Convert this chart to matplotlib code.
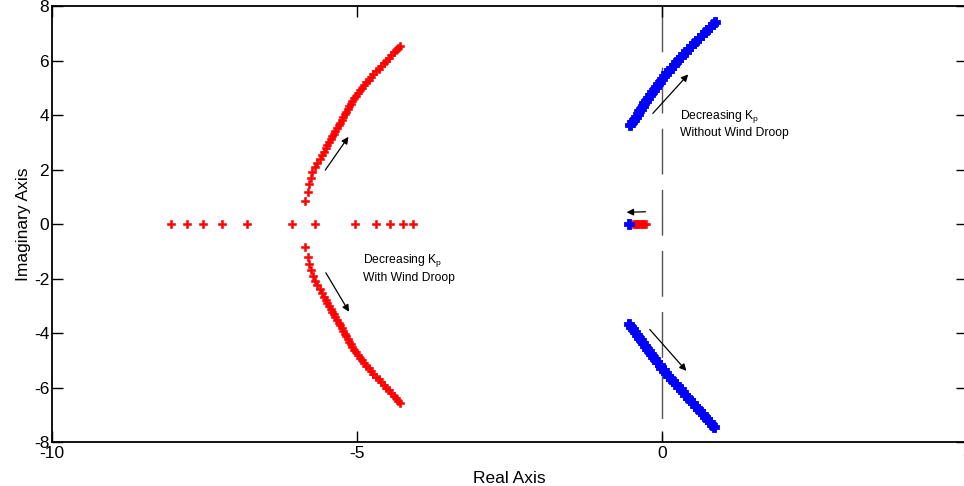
import matplotlib
matplotlib.use('Agg')
import matplotlib.pyplot as plt

plt.rcParams['font.family'] = ['Liberation Sans', 'DejaVu Sans']
plt.rcParams['mathtext.default'] = 'regular'
plt.rcParams['axes.unicode_minus'] = False

# ---- root locus, with wind droop (red) ----
red_axis_re = [-8.05, -7.79, -7.52, -7.21, -6.81, -6.07, -5.69, -5.03, -4.69, -4.46, -4.25, -4.08]
red_axis_im = [0, 0, 0, 0, 0, 0, 0, 0, 0, 0, 0, 0]

red_up_im = [0.83, 1.19, 1.46, 1.69, 1.90, 2.08, 2.24, 2.39, 2.53, 2.66, 2.78, 2.90, 3.01, 3.12,
             3.22, 3.32, 3.42, 3.52, 3.62, 3.72, 3.82, 3.92, 4.02, 4.12, 4.22, 4.32, 4.42, 4.52, 4.61,
             4.70, 4.80, 4.90, 5.00, 5.10, 5.20, 5.30, 5.40, 5.50, 5.60, 5.70, 5.80, 5.90, 6.00, 6.10,
             6.20, 6.30, 6.40, 6.47, 6.54]
red_up_re = [-5.85, -5.81, -5.79, -5.75, -5.73, -5.69, -5.65, -5.61, -5.58, -5.545, -5.515, -5.485, -5.455, -5.43,
             -5.405, -5.38, -5.355, -5.33, -5.30, -5.275, -5.25, -5.225, -5.20, -5.175, -5.15, -5.125, -5.10, -5.075, -5.05,
             -5.02, -4.985, -4.95, -4.915, -4.88, -4.845, -4.81, -4.77, -4.73, -4.685, -4.645, -4.60, -4.56, -4.52, -4.475,
             -4.435, -4.395, -4.355, -4.33, -4.30]

red_dn_im = [-0.83, -1.22, -1.47, -1.69, -1.91, -2.08, -2.24, -2.39, -2.53, -2.66, -2.78, -2.90, -3.01, -3.12,
             -3.22, -3.32, -3.42, -3.52, -3.62, -3.72, -3.82, -3.92, -4.02, -4.12, -4.22, -4.32, -4.42, -4.52, -4.61,
             -4.70, -4.80, -4.90, -5.00, -5.10, -5.20, -5.30, -5.40, -5.50, -5.60, -5.70, -5.80, -5.90, -6.00, -6.10,
             -6.20, -6.30, -6.40, -6.48, -6.56]
red_dn_re = [-5.85, -5.81, -5.78, -5.75, -5.72, -5.69, -5.65, -5.61, -5.58, -5.545, -5.515, -5.485, -5.455, -5.43,
             -5.405, -5.38, -5.355, -5.33, -5.30, -5.275, -5.25, -5.225, -5.20, -5.175, -5.15, -5.125, -5.10, -5.075, -5.05,
             -5.02, -4.985, -4.95, -4.915, -4.88, -4.845, -4.81, -4.77, -4.73, -4.685, -4.645, -4.60, -4.56, -4.52, -4.475,
             -4.435, -4.395, -4.355, -4.33, -4.30]

red_near_re = [-0.47, -0.45, -0.43, -0.41, -0.39, -0.37, -0.35, -0.33, -0.31, -0.29, -0.27]
red_near_im = [0, 0, 0, 0, 0, 0, 0, 0, 0, 0, 0]

# ---- root locus, without wind droop (blue) ----
blue_axis_re = [-0.54]
blue_axis_im = [0]

blue_up_im = [3.63, 3.73, 3.83, 3.93, 4.03, 4.13, 4.23, 4.33, 4.43, 4.53, 4.63, 4.73, 4.83, 4.93,
              5.03, 5.13, 5.23, 5.33, 5.43, 5.53, 5.63, 5.73, 5.83, 5.93, 6.03, 6.13, 6.23, 6.33,
              6.43, 6.53, 6.63, 6.73, 6.83, 6.93, 7.03, 7.13, 7.23, 7.33, 7.42]
blue_up_re = [-0.52, -0.49, -0.46, -0.43, -0.40, -0.375, -0.345, -0.315, -0.29, -0.26, -0.23, -0.195, -0.165, -0.13,
              -0.10, -0.07, -0.04, -0.005, 0.03, 0.07, 0.11, 0.15, 0.19, 0.23, 0.27, 0.31, 0.35, 0.39,
              0.43, 0.475, 0.52, 0.565, 0.61, 0.655, 0.70, 0.74, 0.785, 0.83, 0.87]

blue_dn_im = [-3.67, -3.77, -3.87, -3.97, -4.07, -4.17, -4.27, -4.37, -4.47, -4.57, -4.67, -4.77, -4.87, -4.97,
              -5.07, -5.17, -5.27, -5.37, -5.47, -5.57, -5.67, -5.77, -5.87, -5.97, -6.07, -6.17, -6.27, -6.37,
              -6.47, -6.57, -6.67, -6.77, -6.87, -6.97, -7.07, -7.17, -7.27, -7.37, -7.46]
blue_dn_re = [-0.54, -0.51, -0.48, -0.445, -0.41, -0.38, -0.345, -0.31, -0.28, -0.245, -0.21, -0.175, -0.14, -0.11,
              -0.075, -0.04, -0.01, 0.03, 0.065, 0.105, 0.145, 0.185, 0.225, 0.265, 0.305, 0.345, 0.385, 0.425,
              0.465, 0.505, 0.545, 0.585, 0.625, 0.665, 0.705, 0.745, 0.785, 0.825, 0.86]

xticks = [-10, -5, 0, 5]
yticks = [-8, -6, -4, -2, 0, 2, 4, 6, 8]

fig = plt.figure(figsize=(9.64, 4.86), dpi=100)
ax = fig.add_axes([0.0539, 0.0905, 0.9492, 0.8971])

# dashed imaginary axis, dashes start from the top
ax.plot([0, 0], [8, -8], color='#555555', lw=1.0, dashes=(33, 11), zorder=1)

for re, im in [(red_axis_re, red_axis_im), (red_up_re, red_up_im), (red_dn_re, red_dn_im), (red_near_re, red_near_im)]:
    ax.plot(re, im, ls='none', marker='P', ms=5.5, color='red', mec='red', mew=0.4)
for re, im in [(blue_axis_re, blue_axis_im), (blue_up_re, blue_up_im), (blue_dn_re, blue_dn_im)]:
    ax.plot(re, im, ls='none', marker='P', ms=6.5, color='blue', mec='blue', mew=0.6)

arrows = [((-5.52, 1.98), (-5.14, 3.20)),
          ((-5.51, -1.79), (-5.13, -3.22)),
          ((-0.15, 4.06), (0.43, 5.49)),
          ((-0.20, -3.87), (0.40, -5.39)),
          ((-0.27, 0.45), (-0.58, 0.43))]
for tail, head in arrows:
    ax.annotate('', xy=head, xytext=tail,
                arrowprops=dict(arrowstyle='-|>', color='black', lw=0.9, mutation_scale=10,
                                shrinkA=0, shrinkB=0))

ax.text(-4.90, -1.42, 'Decreasing K$_p$', fontsize=8.7, va='baseline')
ax.text(-4.90, -2.08, 'With Wind Droop', fontsize=8.7, va='baseline')
ax.text(0.30, 3.84, 'Decreasing K$_p$', fontsize=8.7, va='baseline')
ax.text(0.30, 3.23, 'Without Wind Droop', fontsize=8.7, va='baseline')

ax.set_xlim(-10, 5)
ax.set_ylim(-8, 8)
ax.set_xticks(xticks)
ax.set_yticks(yticks)
ax.tick_params(direction='in', length=8, width=1.0, top=True, right=True, labelsize=12.5)
ax.tick_params(axis='x', pad=3)
ax.tick_params(axis='y', pad=2)
for s in ax.spines.values():
    s.set_linewidth(1.3)
ax.set_xlabel('Real Axis', fontsize=12.5, labelpad=7)
ax.set_ylabel('Imaginary Axis', fontsize=12.5, labelpad=2)

fig.savefig('out.png', dpi=100)
